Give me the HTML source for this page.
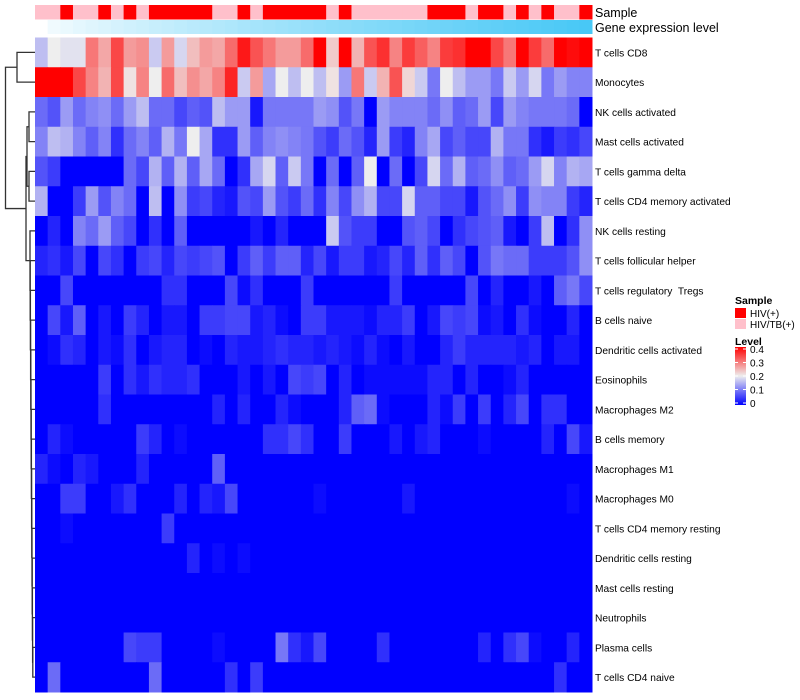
<!DOCTYPE html>
<html><head><meta charset="utf-8"><style>
body{margin:0;background:#fff;font-family:"Liberation Sans",Arial,sans-serif}
svg{display:block}
text{white-space:pre}
</style></head><body>
<svg id="chart" width="800" height="700" xmlns="http://www.w3.org/2000/svg"></svg>
<script>
const rowLabels=["T cells CD8","Monocytes","NK cells activated","Mast cells activated","T cells gamma delta","T cells CD4 memory activated","NK cells resting","T cells follicular helper","T cells regulatory  Tregs","B cells naive","Dendritic cells activated","Eosinophils","Macrophages M2","B cells memory","Macrophages M1","Macrophages M0","T cells CD4 memory resting","Dendritic cells resting","Mast cells resting","Neutrophils","Plasma cells","T cells CD4 naive"];
const sampleGroups=[1,1,0,1,1,0,1,0,1,0,0,0,0,0,1,1,0,1,0,0,0,0,0,1,0,1,1,1,1,1,1,0,0,0,1,0,0,1,0,1,0,1,1,0];
const geneExpr=[0,2,3,4,5,6,7,8,9,10,11,12,13,14,15,16,17,18,19,20,21,22,23,24,25,26,27,28,29,30,31,32,33,34,35,36,37,38,39,40,41,42,43,44];
const levelTicks=[0,0.1,0.2,0.3,0.4];
const r0=[16,20,19,19,30,26,34,27,28,17,27,18,24,27,26,31,38,33,30,27,27,31,40,23,40,25,33,36,29,35,32,29,35,36,40,40,34,30,40,35,31,40,39,40];
const r1=[40,40,40,34,29,25,34,21,29,20,31,24,28,26,29,37,17,27,14,20,16,20,16,21,13,30,17,25,33,22,17,10,20,16,13,13,10,17,13,18,10,13,11,11];
const r2=[9,7,13,9,11,12,9,13,16,9,9,6,8,7,16,13,13,2,10,10,10,10,13,12,7,10,0,13,11,11,11,9,12,8,9,13,6,13,11,10,10,10,9,0];
const r3=[11,16,15,11,8,11,4,9,11,8,15,10,20,14,4,4,13,8,11,12,11,10,7,5,9,7,3,13,5,3,11,14,6,8,6,6,15,10,10,4,2,5,4,6];
const r4=[7,5,0,0,0,0,0,9,6,15,8,15,8,14,9,0,4,14,18,8,17,10,0,9,0,8,20,0,9,0,6,18,9,15,8,9,12,8,9,13,18,11,15,14];
const r5=[15,0,0,5,13,7,11,9,0,16,0,12,5,6,3,2,7,6,13,7,5,9,4,11,6,12,15,6,6,18,8,8,6,6,2,7,9,12,5,12,11,11,5,3];
const r6=[0,3,0,11,9,13,8,6,0,4,0,8,0,0,0,0,0,2,0,3,0,0,0,17,7,5,5,0,0,7,8,6,0,4,6,7,8,2,0,5,16,0,4,12];
const r7=[3,4,2,6,0,6,4,0,5,6,3,6,5,6,7,0,5,8,5,8,8,3,6,2,5,5,2,3,6,3,8,4,8,6,0,7,10,9,9,5,5,5,7,12];
const r8=[0,0,6,0,0,0,0,0,0,0,4,4,0,0,0,6,1,4,0,0,0,5,0,0,0,0,0,0,5,0,0,0,0,0,6,0,3,0,0,2,0,8,10,6];
const r9=[0,6,2,8,0,2,0,5,3,0,2,2,0,5,5,6,6,2,3,1,0,5,5,2,2,2,1,3,3,5,0,2,6,5,6,1,2,0,4,1,0,0,3,0];
const r10=[0,1,4,3,0,2,1,4,0,2,3,3,0,1,0,3,2,2,3,4,3,3,2,3,2,1,3,1,0,2,0,0,3,5,3,3,3,3,2,3,0,2,2,0];
const r11=[0,0,0,0,0,5,0,4,2,4,3,3,4,0,0,0,2,0,2,0,6,5,6,0,3,0,1,1,1,1,1,3,3,0,3,0,0,1,3,0,0,0,0,0];
const r12=[0,0,0,0,0,4,0,0,0,0,0,0,0,0,3,0,3,0,0,3,1,0,0,0,3,8,9,1,0,0,0,3,1,5,0,5,0,3,6,0,4,4,0,0];
const r13=[0,3,1,0,0,0,0,0,5,3,0,1,0,0,0,0,0,0,4,4,6,4,0,0,5,0,0,0,2,0,2,3,0,0,0,1,0,0,0,0,3,0,6,2];
const r14=[3,1,0,3,2,0,0,0,3,0,0,0,0,0,8,0,0,0,0,0,0,0,0,0,0,0,0,0,0,0,0,0,0,0,0,0,0,0,0,0,0,0,0,0];
const r15=[0,0,5,5,0,0,2,4,0,0,0,3,0,3,2,6,0,0,0,0,0,0,1,0,0,0,0,0,0,2,0,0,0,0,0,0,0,0,0,0,0,0,1,0];
const r16=[0,0,1,0,0,0,0,0,0,0,5,0,0,0,0,0,0,0,0,0,0,0,0,0,0,0,0,0,0,0,0,0,0,0,0,0,0,0,0,0,0,0,0,0];
const r17=[0,0,0,0,0,0,0,0,0,0,0,0,3,0,1,0,1,0,0,0,0,0,0,0,0,0,0,0,0,0,0,0,0,0,0,0,0,0,0,0,0,0,0,0];
const r18=[0,0,0,0,0,0,0,0,0,0,0,0,0,0,0,0,0,0,0,0,0,0,0,0,0,0,0,0,0,0,0,0,0,0,0,0,0,0,0,0,0,0,0,0];
const r19=[0,0,0,0,0,0,0,0,0,0,0,0,0,0,0,0,0,0,0,0,0,0,0,0,0,0,0,0,0,0,0,0,0,0,0,0,0,0,0,0,0,0,0,0];
const r20=[0,0,0,0,0,0,0,6,5,5,0,0,0,0,1,0,0,0,0,10,4,2,6,0,0,0,0,4,0,0,0,0,0,0,0,3,0,4,6,1,0,0,3,0];
const r21=[0,9,0,0,0,0,0,0,0,9,0,0,0,0,0,4,0,5,0,0,0,0,0,0,0,0,0,0,0,0,0,0,0,0,0,0,0,0,0,0,0,4,0,0];
const levels=[r0,r1,r2,r3,r4,r5,r6,r7,r8,r9,r10,r11,r12,r13,r14,r15,r16,r17,r18,r19,r20,r21];

const NS="http://www.w3.org/2000/svg";
const svg=document.getElementById("chart");
function mk(t,a,p){const e=document.createElementNS(NS,t);for(const k in a)e.setAttribute(k,a[k]);(p||svg).appendChild(e);return e;}
const X0=35,X1=592,Y0=37.5,Y1=692;
const nCol=sampleGroups.length,nRow=levels.length;
const cw=(X1-X0)/nCol,rh=(Y1-Y0)/nRow;
const xPos=i=>X0+i*cw;
const yPos=j=>Y0+j*rh;
function lerp(a,b,t){return Math.round(a+(b-a)*t);}
function levelColor(v){
  v=Math.max(0,Math.min(0.4,v));
  if(v<=0.2){const t=v/0.2;return `rgb(${lerp(0,238,t)},${lerp(0,238,t)},${lerp(255,238,t)})`;}
  const t=(v-0.2)/0.2;return `rgb(${lerp(238,255,t)},${lerp(238,0,t)},${lerp(238,0,t)})`;
}
const gMax=Math.max(...geneExpr);
function geneColor(v){const t=Math.pow(v/gMax,0.8);return `rgb(${lerp(255,72,t)},${lerp(255,200,t)},${lerp(255,246,t)})`;}

const gs=mk("g",{});


sampleGroups.forEach((s,i)=>{
  const r=mk("rect",{x:xPos(i),y:5,width:cw+0.5,height:14.5,fill:s===0?"#ff0000":"#ffc0cb"},gs);
  
  
});
const gg=mk("g",{});


geneExpr.forEach((v,i)=>{
  const r=mk("rect",{x:xPos(i),y:20,width:cw+0.5,height:14,fill:geneColor(v)},gg);
  
  
});
const gh=mk("g",{});


levels.forEach((row,j)=>{
  row.forEach((v,i)=>{
    const r=mk("rect",{x:xPos(i),y:yPos(j),width:cw+0.5,height:rh+0.5,fill:levelColor(v/100)},gh);
    
    
  });
  const t=mk("text",{x:595,y:yPos(j)+rh/2+4,"font-size":"10.2",fill:"#000"});
  t.textContent=rowLabels[j];
  
  
});
const ta=mk("text",{x:595,y:17,"font-size":"12.5",fill:"#000"});ta.textContent="Sample";


const tb=mk("text",{x:595,y:32,"font-size":"12.5",fill:"#000"});tb.textContent="Gene expression level";



const gd=mk("g",{stroke:"#333","stroke-width":"1.3",fill:"none"});


const yc=j=>yPos(j)+rh/2;
function link(x,ya,yb,xa,xb){mk("path",{d:`M${xa},${ya}H${x}V${yb}H${xb}`},gd);}
link(17,yc(0),yc(1),35,35);
const m01=(yc(0)+yc(1))/2;
link(29,yc(2),yc(3),35,35);
link(29,yc(4),yc(5),35,35);
const m23=(yc(2)+yc(3))/2,m45=(yc(4)+yc(5))/2;
link(27,m23,m45,29,29);
const m25=(m23+m45)/2;
let prevY=yc(21),prevX=35;
for(let j=20;j>=6;j--){
  const x=30+(j-6)*0.2;
  link(x,yc(j),prevY,35,prevX);
  prevY=(yc(j)+prevY)/2;prevX=x;
}
link(26,m25,prevY,27,prevX);
const mLow=(m25+prevY)/2;
link(5.5,m01,mLow,17,26);

const gl=mk("g",{});


const lt=mk("text",{x:735,y:304,"font-size":"10.5","font-weight":"bold"},gl);lt.textContent="Sample";
mk("rect",{x:735,y:308,width:11,height:10,fill:"#ff0000"},gl);
const l1=mk("text",{x:750,y:317,"font-size":"10"},gl);l1.textContent="HIV(+)";


mk("rect",{x:735,y:319,width:11,height:10,fill:"#ffc0cb"},gl);
const l2=mk("text",{x:750,y:328,"font-size":"10"},gl);l2.textContent="HIV/TB(+)";


const lv=mk("text",{x:735,y:345,"font-size":"10.5","font-weight":"bold"},gl);lv.textContent="Level";
const defs=mk("defs",{});
const grad=mk("linearGradient",{id:"lg",x1:"0",y1:"1",x2:"0",y2:"0"},defs);
mk("stop",{offset:"0","stop-color":levelColor(0)},grad);
mk("stop",{offset:"0.5","stop-color":levelColor(0.2)},grad);
mk("stop",{offset:"1","stop-color":levelColor(0.4)},grad);
const bT=349,bB=403;
mk("rect",{x:735,y:347,width:11,height:58,fill:"url(#lg)"},gl);
levelTicks.forEach(v=>{
  const y=bB-(v/0.4)*(bB-bT);
  mk("line",{x1:735,x2:738,y1:y,y2:y,stroke:"#fff"},gl);
  mk("line",{x1:743,x2:746,y1:y,y2:y,stroke:"#fff"},gl);
  const t=mk("text",{x:750,y:y+4,"font-size":"10"},gl);t.textContent=String(v);
  
  
});
</script>
</body></html>
